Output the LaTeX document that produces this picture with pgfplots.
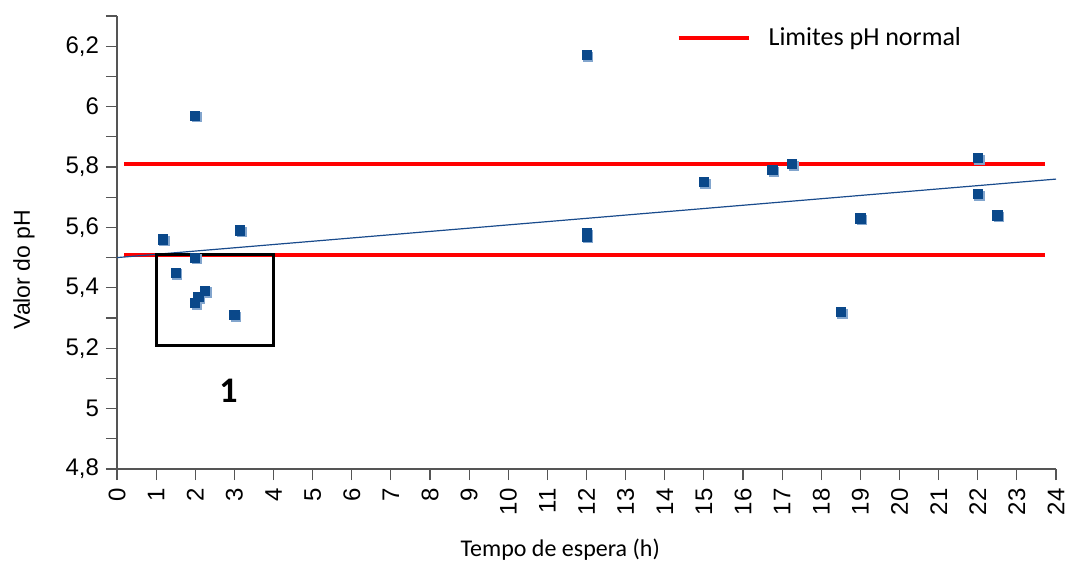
\documentclass[border=0pt]{standalone}
\usepackage{fontspec}
\setmainfont{Liberation Sans}
\newfontfamily\calibri{Carlito}
\usepackage{pgfplots}
\usepackage{pgfplotstable}
\pgfplotsset{compat=1.18}

\definecolor{ptblue}{RGB}{10,72,138}
\definecolor{ptshadow}{RGB}{130,165,205}
\definecolor{trendblue}{RGB}{25,75,140}
\definecolor{axisgray}{RGB}{85,85,85}

% pH measured against waiting time
\pgfplotstableread{
x     y
1.17  5.56
1.5   5.45
2     5.97
2     5.50
2     5.35
2.08  5.37
2.25  5.39
3     5.31
3.15  5.59
12    6.17
12    5.58
12    5.57
15    5.75
16.75 5.79
17.25 5.81
18.5  5.32
19    5.63
22    5.83
22    5.71
22.5  5.64
}\phdata

\begin{document}
\begin{tikzpicture}
\begin{axis}[
  scale only axis,
  width=469.5pt, height=226.5pt,
  xmin=0, xmax=24, ymin=4.8, ymax=6.3,
  axis lines=left,
  axis line style={-, axisgray, line width=0.6pt},
  tick style={axisgray, line width=0.6pt},
  tick align=outside,
  major tick length=5.5pt,
  minor tick length=5.5pt,
  xtick={0,1,...,24},
  ytick={4.8,5,5.2,5.4,5.6,5.8,6,6.2},
  minor ytick={4.9,5.1,5.3,5.5,5.7,5.9,6.1,6.3},
  /pgf/number format/use comma,
  /pgf/number format/assume math mode=true,
  ticklabel style={font=\fontsize{12}{14}\selectfont},
  xticklabel style={rotate=90, anchor=east, inner sep=1pt},
  xticklabel shift=3pt,
  xlabel={\calibri Tempo de espera (h)},
  ylabel={Valor do pH},
  xlabel style={at={(axis description cs:0.472,-0.177)}, anchor=center, font=\fontsize{12}{14}\selectfont},
  ylabel style={at={(axis description cs:-0.099,0.44)}, anchor=center, font=\fontsize{11.5}{14}\selectfont},
  clip=false,
  legend style={at={(axis description cs:0.5955,0.951)}, anchor=west,
    draw=none, fill=none, inner sep=0pt,
    nodes={inner sep=0pt, font=\calibri\fontsize{13}{15}\selectfont},
    /tikz/every odd column/.append style={column sep=9pt}},
  legend image code/.code={\draw[#1] (0pt,0pt) -- (35pt,0pt);},
]
% normal pH limits
\addplot[red, line width=2pt, mark=none] coordinates {(0.18,5.51) (23.72,5.51)};
\addlegendentry{Limites pH normal}
\addplot[red, line width=2pt, mark=none, forget plot] coordinates {(0.18,5.81) (23.72,5.81)};
% linear trend
\addplot[trendblue, line width=0.6pt, mark=none, forget plot] coordinates {(0,5.50) (24,5.76)};
% highlighted group 1
\addplot[black, line width=1.6pt, mark=none, forget plot] coordinates {(1,5.21) (4,5.21) (4,5.51) (1,5.51)} -- cycle;
% measurements (with soft shadow)
\addplot[only marks, mark=square*, mark size=2.3pt, ptshadow, mark options={xshift=0.8pt, yshift=-0.8pt}, forget plot] table[x=x, y=y] {\phdata};
\addplot[only marks, mark=square*, mark size=2.3pt, ptblue, forget plot] table[x=x, y=y] {\phdata};
\node[font=\calibri\bfseries\fontsize{18}{20}\selectfont] at (axis cs:2.85,5.06) {1};
\end{axis}
\pgfresetboundingbox
\useasboundingbox ([shift={(-58.5pt,-47pt)}]current axis.south west) rectangle ([shift={(5.5pt,8pt)}]current axis.north east);
\end{tikzpicture}
\end{document}
